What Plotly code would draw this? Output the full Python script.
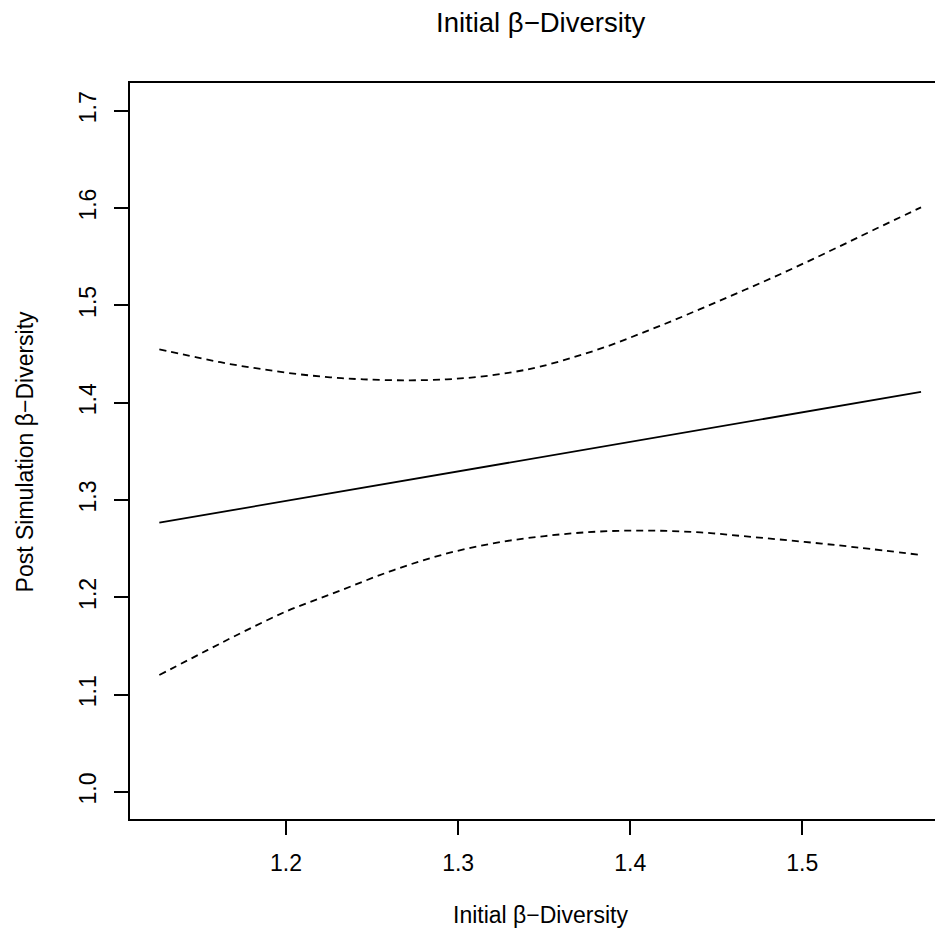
import plotly.graph_objects as go

# Fitted line
fit_x = [1.1264, 1.5690]
fit_y = [1.2767, 1.4110]

# Upper confidence band
upper_x = [1.1264, 1.1481, 1.1675, 1.1868, 1.2062, 1.2256, 1.2449, 1.2701, 1.2934,
           1.3127, 1.3321, 1.3476, 1.3669, 1.3863, 1.4057, 1.4250, 1.4444, 1.4638,
           1.4832, 1.5026, 1.5219, 1.5413, 1.5690]
upper_y = [1.4548, 1.4466, 1.4397, 1.4343, 1.4295, 1.4261, 1.4240, 1.4230, 1.4240,
           1.4267, 1.4315, 1.4370, 1.4466, 1.4577, 1.4708, 1.4845, 1.4990, 1.5138,
           1.5288, 1.5446, 1.5608, 1.5774, 1.6007]

# Lower confidence band
lower_x = [1.1264, 1.1546, 1.1696, 1.1998, 1.2299, 1.2600, 1.2902, 1.3203, 1.3504,
           1.3806, 1.4107, 1.4409, 1.4710, 1.5012, 1.5313, 1.5690]
lower_y = [1.1202, 1.1460, 1.1596, 1.1853, 1.2058, 1.2264, 1.2435, 1.2555, 1.2630,
           1.2675, 1.2686, 1.2667, 1.2620, 1.2570, 1.2514, 1.2435]

x_ticks = [1.2, 1.3, 1.4, 1.5]
y_ticks = [1.0, 1.1, 1.2, 1.3, 1.4, 1.5, 1.6, 1.7]

FONT = "Liberation Sans, Arial, Helvetica, sans-serif"

fig = go.Figure()
fig.add_trace(go.Scatter(x=fit_x, y=fit_y, mode="lines",
                         line=dict(color="black", width=1.8), showlegend=False))
fig.add_trace(go.Scatter(x=upper_x, y=upper_y, mode="lines", line_shape="spline",
                         line=dict(color="black", width=1.8, dash="7px,5px"), showlegend=False))
fig.add_trace(go.Scatter(x=lower_x, y=lower_y, mode="lines", line_shape="spline",
                         line=dict(color="black", width=1.8, dash="7px,5px"), showlegend=False))

fig.update_layout(
    width=943, height=934,
    margin=dict(l=122, r=0, t=75, b=123),
    paper_bgcolor="white", plot_bgcolor="white",
    font=dict(family=FONT, color="black", size=23),
    xaxis=dict(range=[1.10935, 1.58640], tickvals=x_ticks,
               ticktext=[f"{v:.1f}" for v in x_ticks],
               showgrid=False, zeroline=False, showline=True, mirror=True,
               linecolor="black", linewidth=1.8, ticks="outside", ticklen=14,
               tickwidth=1.8, tickcolor="black", tickfont=dict(size=23),
               ticklabelstandoff=8),
    yaxis=dict(range=[0.97226, 1.72846], tickvals=y_ticks,
               ticktext=[f"{v:.1f}" for v in y_ticks],
               showgrid=False, zeroline=False, showline=True, mirror=False,
               linecolor="black", linewidth=1.8, ticks="outside", ticklen=14,
               tickwidth=1.8, tickcolor="black", tickfont=dict(size=23),
               tickangle=-90, ticklabelstandoff=9),
    annotations=[
        dict(text="Initial β−Diversity", xref="paper", yref="paper",
             x=0.5, y=1.0828, xanchor="center", yanchor="middle",
             showarrow=False, font=dict(size=27.5)),
        dict(text="Initial β−Diversity", xref="paper", yref="paper",
             x=0.5, y=-0.1304, xanchor="center", yanchor="middle",
             showarrow=False, font=dict(size=23)),
        dict(text="Post Simulation β−Diversity", xref="paper", yref="paper",
             x=-0.1274, y=0.5, xanchor="center", yanchor="middle", textangle=-90,
             showarrow=False, font=dict(size=23)),
    ],
)

fig.write_html("out.html")
